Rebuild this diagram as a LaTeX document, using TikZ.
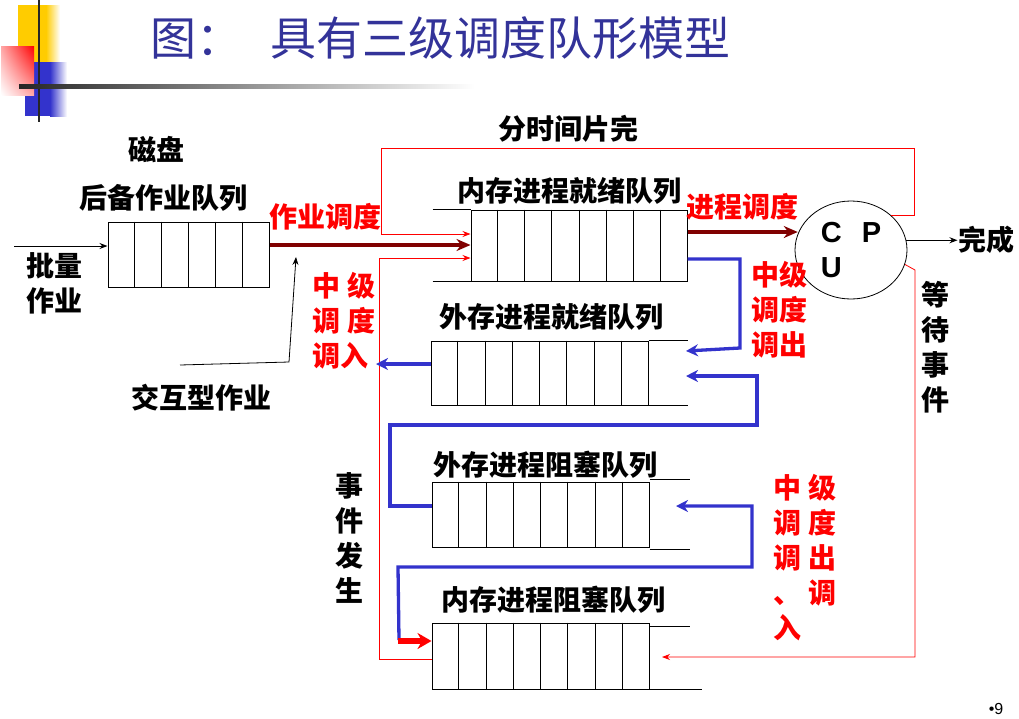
\documentclass[tikz,border=0pt]{standalone}
\usepackage{fontspec}
\setmainfont{Liberation Sans}
\newfontfamily\cjk{Noto Sans CJK SC}
\usetikzlibrary{arrows.meta,shapes.geometric,calc,shadings}
\definecolor{titleblue}{RGB}{51,51,153}
\definecolor{lineblue}{RGB}{51,51,204}
\definecolor{darkred}{RGB}{128,0,0}
\definecolor{deckyellow}{RGB}{255,204,0}

% cell walls of a queue box
\newcommand{\qcells}[2]{%
  \pgfmathtruncatemacro{\qlast}{#2-1}%
  \foreach \k in {1,...,\qlast}
    \draw ($(#1.north west)!\k/#2!(#1.north east)$) -- ($(#1.south west)!\k/#2!(#1.south east)$);}

\begin{document}
\begin{tikzpicture}[x=1pt,y=-1pt,line width=1pt,
  >={Stealth[length=8pt,width=6pt]},
  queue/.style={draw,rectangle,inner sep=0pt},
  lbl/.style={font=\cjk\bfseries\fontsize{28}{35}\selectfont,inner sep=0pt,align=center},
  redlbl/.style={lbl,text=red},
  thinred/.style={draw=red,line width=0.8pt},
  bluepath/.style={draw=lineblue,line width=3.3pt,-{Stealth[length=12pt,width=12pt]}}]
\useasboundingbox (0,0) rectangle (1019,718);

% slide corner
\fill[deckyellow] (18,5) rectangle (46,62);
\shade[left color=deckyellow,right color=white] (46,5) rectangle (60,62);
\fill[lineblue] (25,62) rectangle (50,116);
\shade[left color=lineblue,right color=white] (50,62) rectangle (67,116);
\shade[upper right=red,upper left=red!35,lower right=red!35,lower left=white] (1,46) rectangle (34,95);
\draw[line width=2pt,black!85] (39,0) -- (39,122);
\shade[left color=black!85,right color=white] (19,84) rectangle (475,88);

\node[anchor=west,text=titleblue,font=\cjk\fontsize{46}{50}\selectfont,inner sep=0pt] (title) at (150,38) {图：\hspace{28pt}具有三级调度队形模型};

% queues
\node[lbl] (disk) at (156,150) {磁盘};
\node[lbl] (backlbl) at (163,198) {后备作业队列};
\node[queue,minimum width=161pt,minimum height=65pt] (bq) at (188.5,254.5) {};
\qcells{bq}{6}
\node[lbl] (batch) at (54,283) {批量\\作业};
\node[lbl] (inter) at (201,398) {交互型作业};
\node[redlbl] (jobsched) at (325,217) {作业调度};
\node[lbl] (slice) at (568,129) {分时间片完};

\node[lbl] (irlbl) at (569,191) {内存进程就绪队列};
\node[queue,minimum width=216pt,minimum height=71pt] (ir) at (579,245.5) {};
\qcells{ir}{8}
\draw (ir.north west) ++(-38,0) -- (ir.north west);
\draw (ir.south west) ++(-38,0) -- (ir.south west);

\node[redlbl] (procsched) at (742,207) {进程调度};
\node[ellipse,draw,line width=0.8pt,minimum width=112pt,minimum height=98pt,inner sep=0pt,
  font=\bfseries\fontsize{29}{35}\selectfont,align=left] (cpu) at (851,250) {C\hspace{20pt}P\\U};
\node[lbl] (done) at (986,240) {完成};
\node[lbl] (wait) at (935,347) {等\\待\\事\\件};
\node[redlbl] (midout) at (779,310) {中级\\调度\\调出};

\node[lbl] (orlbl) at (551,317) {外存进程就绪队列};
\node[queue,minimum width=217pt,minimum height=64pt] (orq) at (539.5,373) {};
\qcells{orq}{8}
\draw (orq.north east) -- ++(39,0);
\draw (orq.south east) -- ++(39,0);
\node[redlbl,align=left] (midin) at (344,321) {中\hspace{7pt}级\\调\hspace{7pt}度\\调入};

\node[lbl] (oblbl) at (545,465) {外存进程阻塞队列};
\node[queue,minimum width=217pt,minimum height=65pt] (obq) at (540.5,514.5) {};
\qcells{obq}{8}
\draw (obq.north east) ++(0,-2) -- ++(40,0);
\draw (obq.south east) ++(0,2) -- ++(40,0);
\node[lbl] (event) at (349,537.5) {事\\件\\发\\生};

\node[lbl] (iblbl) at (553,600) {内存进程阻塞队列};
\node[queue,minimum width=217pt,minimum height=66pt] (ibq) at (540.5,656) {};
\qcells{ibq}{8}
\draw (ibq.north east) ++(0,4) -- ++(40,0);
\draw (ibq.south east) -- ++(52,0);
\node[redlbl,align=left] (midboth) at (805,558) {中\hspace{7pt}级\\调\hspace{7pt}度\\调\hspace{7pt}出\\、\hspace{7pt}调\\入};

\node[font=\fontsize{16}{18}\selectfont,inner sep=0pt] (pagenum) at (996,709) {•9};

% connectors
\coordinate (batchin) at (14,246);
\draw[->] (batchin) -- (batchin -| bq.west);
\coordinate (interin) at (180,365);
\draw[->,line width=0.8pt] (interin) -- (289,362) -- (296,257);
\draw[darkred,line width=4pt,-{Stealth[length=14pt,width=12pt]}] (bq.east |- 0,245) -- (ir.west |- 0,245);
\draw[thinred,->] (cpu.north east) -- ++(24,0) |- (381,148) -- (381,234) -- (ir.west |- 0,234);
\draw[thinred,->] (ibq.west |- 0,659) -- (379,659) -- (379,258) -- (ir.west |- 0,258);
\draw[darkred,line width=4pt,-{Stealth[length=14pt,width=12pt]}] (ir.east |- 0,232) -- (cpu.163 |- 0,232);
\draw[->] (cpu.10) -- (done.west |- cpu.10);
\coordinate (ibin) at (662,657);
\draw[thinred,->] (cpu.-15) -- (915,270) -- (915,657) -- (ibin);

\draw[bluepath] (ir.east |- 0,259) -- (740,259) -- (740,348) -- (686,351);
\draw[bluepath] (obq.west |- 0,506) -- (390,506) -- (390,425) -- (757,425) -- (757,376) -- (686,376);
\draw[bluepath] (orq.west |- 0,364) -- (376,364);
\draw[bluepath] (399,640) -- (398,567) -- (752,567) -- (752,506) -- (676,506);
\draw[red,line width=6pt,-{Stealth[length=14pt,width=16pt]}] (398,641) -- (ibq.west |- 0,641);
\end{tikzpicture}
\end{document}
